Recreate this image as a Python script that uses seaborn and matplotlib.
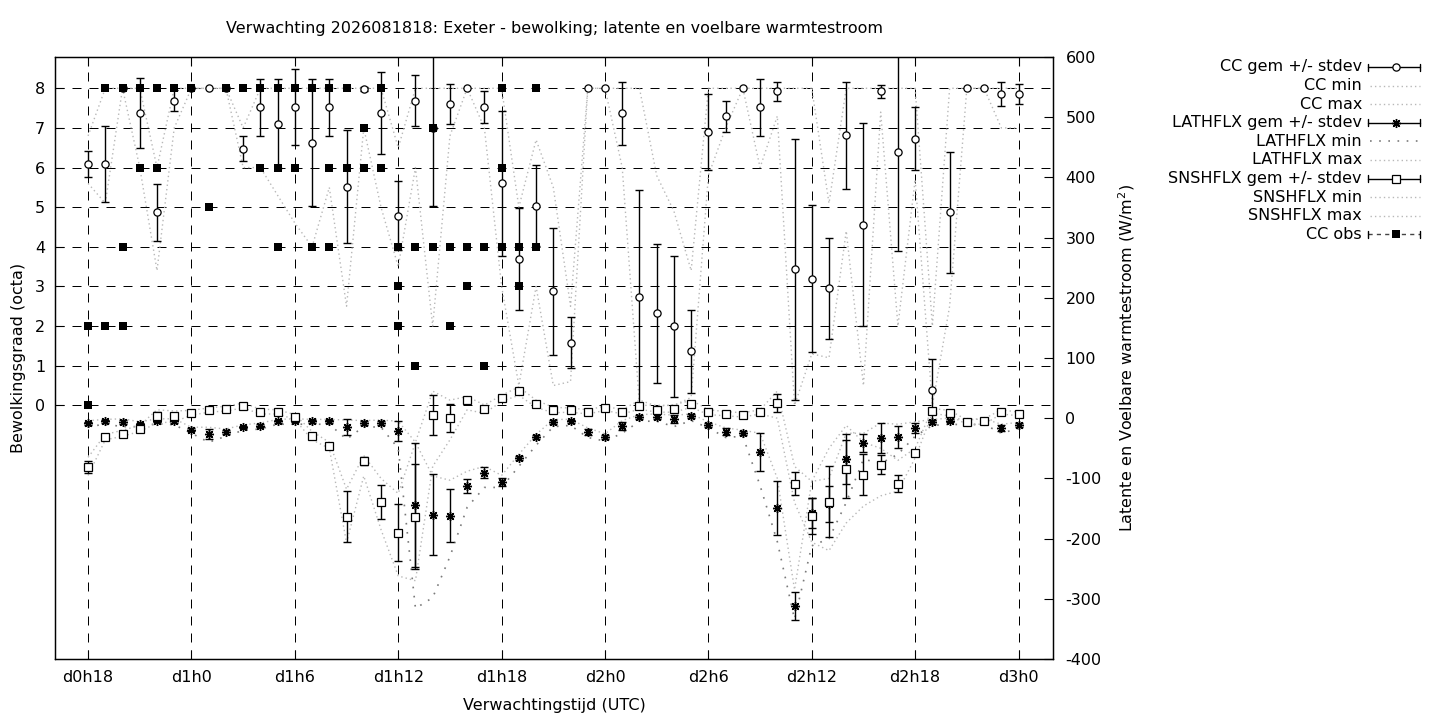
import numpy as np
import matplotlib
matplotlib.use("Agg")
import matplotlib.pyplot as plt
import seaborn as sns
from matplotlib.lines import Line2D

# ---------------- data ----------------
hours = list(range(18, 73))

cc_mean = [6.08, 6.08, 8.0, 7.37, 4.87, 7.69, 8.0, 8.0, 8.0, 6.48,
           7.52, 7.11, 7.52, 6.63, 7.52, 5.52, 7.98, 7.37, 4.79, 7.69,
           7.0, 7.6, 8.0, 7.52, 5.6, 3.69, 5.04, 2.88, 1.58, 8.0,
           8.0, 7.37, 2.73, 2.32, 1.99, 1.36, 6.89, 7.29, 8.0, 7.52,
           7.92, 3.43, 3.2, 2.95, 6.81, 4.56, 7.92, 6.4, 6.73, 0.4,
           4.87, 8.0, 8.0, 7.85, 7.85]
cc_std = [0.33, 0.96, 0.0, 0.88, 0.72, 0.27, 0.0, 0.0, 0.0, 0.32,
          0.72, 1.12, 0.96, 1.6, 0.72, 1.43, 0.05, 1.03, 0.87, 0.64,
          1.96, 0.5, 0.0, 0.4, 1.84, 1.28, 1.03, 1.6, 0.64, 0.0,
          0.0, 0.8, 2.7, 1.76, 1.77, 1.04, 0.96, 0.4, 0.0, 0.72,
          0.24, 3.3, 1.85, 1.28, 1.36, 2.56, 0.17, 2.5, 0.79, 0.77,
          1.53, 0.0, 0.0, 0.3, 0.25]
cc_min = [5.6, 5.1, 8.0, 6.0, 3.4, 7.0, 8.0, 8.0, 8.0, 6.0,
          6.0, 5.3, 4.6, 4.0, 5.5, 2.5, 7.0, 5.0, 3.5, 6.0,
          2.0, 6.8, 8.0, 7.0, 3.0, 0.5, 3.0, 0.5, 0.6, 8.0,
          8.0, 6.0, 0.0, 0.0, 0.0, 0.2, 5.8, 7.0, 8.0, 6.0,
          7.3, 0.0, 1.3, 1.2, 4.4, 0.5, 7.4, 2.0, 5.7, 0.0,
          2.5, 8.0, 8.0, 7.0, 7.0]
cc_max = [6.8, 8.0, 8.0, 8.0, 6.0, 8.0, 8.0, 8.0, 8.0, 7.0,
          8.0, 8.0, 8.0, 8.0, 8.0, 8.0, 8.0, 8.0, 6.5, 8.0,
          8.0, 8.0, 8.0, 8.0, 8.0, 5.0, 6.7, 5.5, 2.5, 8.0,
          8.0, 8.0, 8.0, 5.8, 4.9, 3.4, 8.0, 8.0, 8.0, 8.0,
          8.0, 8.0, 8.0, 5.1, 8.0, 8.0, 8.0, 8.0, 8.0, 2.0,
          8.0, 8.0, 8.0, 8.0, 8.0]

lath_mean = [-8.6, -5.3, -6.3, -9.7, -4.1, -5.3, -19.0, -26.3, -22.9, -14.6,
             -12.4, -5.3, -4.1, -5.3, -5.3, -14.6, -8.0, -8.0, -21.2, -143.7,
             -160.3, -162.0, -113.0, -90.8, -106.0, -66.0, -31.2, -6.0, -5.3, -22.4,
             -31.2, -13.0, 2.0, 2.5, -1.4, 3.6, -10.8, -22.4, -24.6, -56.0,
             -148.7, -311.5, -158.0, -143.0, -67.5, -41.0, -32.8, -31.2, -16.3, -6.3,
             -4.1, -6.0, -5.0, -16.3, -11.3]
lath_std = [3, 2, 4, 2, 2, 3, 2, 8, 3, 2,
            3, 3, 3, 2, 3, 12.5, 3, 4, 17, 103,
            67, 44, 12, 9, 7, 3, 3, 3, 3, 5,
            3, 7, 4, 4, 7, 3, 3, 6, 3, 31,
            45, 23, 25, 30, 41, 15, 25, 18, 8, 3,
            3, 3, 3, 5, 3]
lath_min = [-14, -10, -14, -14, -9, -11, -25, -40, -30, -20,
            -18, -10, -10, -10, -10, -35, -14, -15, -50, -316,
            -298, -230, -148, -115, -115, -80, -45, -14, -12, -32,
            -38, -25, -5, -5, -14, -4, -16, -32, -30, -112,
            -205, -334, -212, -200, -140, -68, -75, -60, -30, -12,
            -10, -11, -10, -25, -17]
lath_max = [-4, -2, -1, -6, -1, -1, -15, -15, -18, -11,
            -8, -2, -1, -2, -2, -3, -4, -3, -5, -40,
            -96, -103, -88, -80, -95, -60, -27, -2, -2, -16,
            -26, -4, 6, 7, 5, 7, -6, -16, -20, -25,
            -100, -285, -105, -100, -25, -25, -8, -10, -6, -2,
            0, -2, -1, -10, -7]

snsh_mean = [-80.3, -31.2, -25.7, -18.0, 4.1, 3.0, 9.1, 13.5, 15.7, 20.7,
             10.8, 10.2, 2.0, -29.0, -46.0, -163.6, -71.5, -138.7, -190.0, -163.6,
             5.3, 0.3, 30.0, 15.7, 33.4, 45.0, 23.5, 13.5, 13.5, 10.2,
             16.8, 10.2, 20.7, 14.0, 15.2, 23.5, 10.2, 7.0, 5.3, 10.2,
             25.0, -109.0, -162.0, -138.7, -84.0, -94.0, -77.5, -109.0, -57.7, 11.9,
             8.6, -6.3, -5.3, 10.2, 7.0]
snsh_std = [10, 3, 3, 3, 7, 6, 2, 2, 2, 2,
            2, 2, 2, 4, 2, 42.5, 7, 28, 47.7, 87,
            33.7, 23, 3, 5, 3, 5, 3, 3, 2, 2,
            2, 2, 3, 2, 3, 3, 2, 2, 2, 2,
            15, 19, 30, 59, 48, 34, 16, 14, 3, 2,
            3, 2, 3, 2, 2]
snsh_min = [-95, -36, -30, -22, -8, -6, 5, 10, 12, 17,
            7, 7, -2, -36, -50, -207, -96, -185, -262, -270,
            -80, -36, 14, 8, 28, 38, 18, 9, 10, 7,
            13, 7, 15, 10, 10, 18, 6, 4, 2, 7,
            0, -140, -206, -220, -174, -146, -129, -121, -66, 8,
            4, -10, -10, 7, 4]
snsh_max = [-65, -27, -20, -12, 14, 12, 13, 17, 20, 25,
            15, 14, 6, -22, -40, -118, -62, -100, -125, -40,
            45, 30, 36, 22, 38, 52, 30, 18, 17, 14,
            20, 14, 30, 20, 22, 30, 14, 11, 9, 14,
            45, -80, -105, -50, -12, -40, -50, -70, -50, 16,
            13, -3, -1, 14, 10]

obs_hours = [18, 18, 19, 19, 20, 20, 20, 21, 21, 22, 22, 23, 24, 25, 26, 27,
             28, 28, 29, 29, 29, 30, 30, 31, 31, 32, 32, 32, 33, 33, 34, 34,
             35, 35, 36, 36, 36, 37, 37, 38, 38, 39, 39, 40, 40, 41, 41,
             42, 42, 42, 43, 43, 44, 44]
obs_values = [2, 0, 8, 2, 8, 4, 2, 8, 6, 8, 6, 8, 8, 5, 8, 8,
              8, 6, 8, 6, 4, 8, 6, 8, 4, 8, 6, 4, 8, 6, 7, 6,
              8, 6, 4, 3, 2, 4, 1, 7, 4, 4, 2, 4, 3, 4, 1,
              8, 6, 4, 4, 3, 8, 4]

tick_hours = [18, 24, 30, 36, 42, 48, 54, 60, 66, 72]
tick_labels = ["d0h18", "d1h0", "d1h6", "d1h12", "d1h18", "d2h0",
               "d2h6", "d2h12", "d2h18", "d3h0"]

title = "Verwachting 2026081818: Exeter - bewolking; latente en voelbare warmtestroom"

# ---------------- style ----------------
sns.set_style("white")
plt.rcParams['font.family'] = ['DejaVu Sans']
plt.rcParams['font.size'] = 11.5
plt.rcParams['axes.unicode_minus'] = False
for key in ('text.color', 'axes.labelcolor', 'xtick.color', 'ytick.color',
            'axes.edgecolor'):
    plt.rcParams[key] = 'black'
FS = 11.5

W, H = 1440, 720
fig = plt.figure(figsize=(14.4, 7.2), dpi=100)
ax = fig.add_axes([55 / W, 61 / H, 998 / W, 602 / H])
ax2 = ax.twinx()

LIGHT = "#b8b8b8"
DARK = "#7a7a7a"
fine_dot = (0, (1.0, 2.2))
sparse_dot = (0, (1.0, 4.5))
grid_dash = (0, (9, 8))

h = np.array(hours)

# ---- left axis: cloud cover ----
ax.set_xlim(16.08, 74.0)
ax.set_ylim(-6.40, 8.79)
ax.set_axisbelow(True)

sns.lineplot(x=hours, y=cc_min, ax=ax, color=LIGHT, linestyle=fine_dot,
             linewidth=1.0, estimator=None, sort=False, legend=False)
sns.lineplot(x=hours, y=cc_max, ax=ax, color=LIGHT, linestyle=fine_dot,
             linewidth=1.0, estimator=None, sort=False, legend=False)

ccm = np.array(cc_mean)
ccs = np.array(cc_std)
msk = ccs > 0
ax.errorbar(h[msk], ccm[msk], yerr=ccs[msk], fmt='none', ecolor='black',
            elinewidth=1.0, capsize=2.6, capthick=1.0, zorder=3)
ax.plot(h, ccm, linestyle='none', marker='o', ms=5.2, mfc='white',
        mec='black', mew=0.9, zorder=4)

sns.scatterplot(x=obs_hours, y=obs_values, ax=ax, marker='s', color='black',
                s=30, linewidth=0, zorder=6, legend=False)

# ---- right axis: heat fluxes ----
ax2.set_ylim(-400, 600)
sns.lineplot(x=hours, y=lath_min, ax=ax2, color=DARK, linestyle=sparse_dot,
             linewidth=1.2, estimator=None, sort=False, legend=False)
sns.lineplot(x=hours, y=lath_max, ax=ax2, color=LIGHT, linestyle=fine_dot,
             linewidth=1.0, estimator=None, sort=False, legend=False)
sns.lineplot(x=hours, y=snsh_min, ax=ax2, color=LIGHT, linestyle=fine_dot,
             linewidth=1.0, estimator=None, sort=False, legend=False)
sns.lineplot(x=hours, y=snsh_max, ax=ax2, color=LIGHT, linestyle=fine_dot,
             linewidth=1.0, estimator=None, sort=False, legend=False)

ax2.errorbar(hours, lath_mean, yerr=lath_std, fmt='none', ecolor='black',
             elinewidth=1.0, capsize=2.6, capthick=1.0, zorder=3)
ax2.plot(hours, lath_mean, linestyle='none', marker=(8, 2, 0), ms=6.5,
         mec='black', mew=1.0, zorder=4)
ax2.errorbar(hours, snsh_mean, yerr=snsh_std, fmt='none', ecolor='black',
             elinewidth=1.0, capsize=2.6, capthick=1.0, zorder=3)
ax2.plot(hours, snsh_mean, linestyle='none', marker='s', ms=5.2,
         mfc='white', mec='black', mew=0.9, zorder=5)

# ---- axes, ticks, grid ----
ax.set_xticks(tick_hours)
ax.set_xticklabels(tick_labels)
ax.set_yticks(list(range(0, 9)))
ax.grid(True, color='black', linestyle=grid_dash, linewidth=0.72)
ax.tick_params(axis='x', direction='in', length=6.5, width=0.8, top=True,
               bottom=True, pad=8, labelsize=FS, colors='black')
ax.tick_params(axis='y', direction='in', length=6.5, width=0.8, left=True,
               right=False, pad=7, labelsize=FS, colors='black')
ax2.set_yticks(list(range(-400, 601, 100)))
ax2.tick_params(axis='y', direction='in', length=6.5, width=0.8, right=True,
                pad=9, labelsize=FS, colors='black')
for a in (ax, ax2):
    for s in a.spines.values():
        s.set_linewidth(0.9)
        s.set_color('black')

ax.set_ylabel("Bewolkingsgraad (octa)", fontsize=FS, color='black')
ax.yaxis.set_label_coords(-0.029, 0.5)
ax2.set_ylabel(r"Latente en Voelbare warmtestroom (W/m$^2$)", fontsize=FS,
               color='black')
ax2.yaxis.set_label_coords(1.063, 0.5)
ax.set_xlabel("Verwachtingstijd (UTC)", fontsize=FS, color='black')
ax.xaxis.set_label_coords(0.5, -0.064)

fig.text(554 / W, 1 - 29 / H, title, ha='center', va='center', fontsize=FS,
         color='black')

# ---- legend (drawn in pixel space) ----
leg = fig.add_axes([0, 0, 1, 1])
leg.set_xlim(0, W)
leg.set_ylim(H, 0)
leg.axis('off')
leg.patch.set_alpha(0)

entries = [
    ("CC gem +/- stdev", "err", "o"),
    ("CC min", "dot", None),
    ("CC max", "dot", None),
    ("LATHFLX gem +/- stdev", "err", "star"),
    ("LATHFLX min", "sparse", None),
    ("LATHFLX max", "dot", None),
    ("SNSHFLX gem +/- stdev", "err", "s"),
    ("SNSHFLX min", "dot", None),
    ("SNSHFLX max", "dot", None),
    ("CC obs", "obs", "fs"),
]
x0, x1, xm = 1368, 1420, 1396
for i, (lab, kind, mk) in enumerate(entries):
    y = 67 + 18.6 * i
    leg.text(1362, y, lab, ha='right', va='center', fontsize=FS, color='black')
    if kind in ("err", "obs"):
        ls = '-' if kind == "err" else (0, (3, 3))
        lc = 'black' if kind == "err" else '#444444'
        leg.add_line(Line2D([x0, x1], [y, y], color=lc, lw=1.0, linestyle=ls))
        leg.add_line(Line2D([x0, x0], [y - 3.5, y + 3.5], color='black', lw=1.0))
        leg.add_line(Line2D([x1, x1], [y - 3.5, y + 3.5], color='black', lw=1.0))
        if mk == "o":
            leg.plot([xm], [y], marker='o', ms=5.2, mfc='white', mec='black', mew=0.9)
        elif mk == "star":
            leg.plot([xm], [y], marker=(8, 2, 0), ms=6.5, mec='black', mew=1.0)
        elif mk == "s":
            leg.plot([xm], [y], marker='s', ms=5.2, mfc='white', mec='black', mew=0.9)
        else:
            leg.plot([xm], [y], marker='s', ms=5.5, mfc='black', mec='black', mew=0)
    elif kind == "dot":
        leg.add_line(Line2D([1370, 1420], [y, y], color=LIGHT, lw=1.0, linestyle=fine_dot))
    else:
        leg.add_line(Line2D([1370, 1420], [y, y], color=DARK, lw=1.2, linestyle=sparse_dot))

fig.savefig("out.png", dpi=100)
